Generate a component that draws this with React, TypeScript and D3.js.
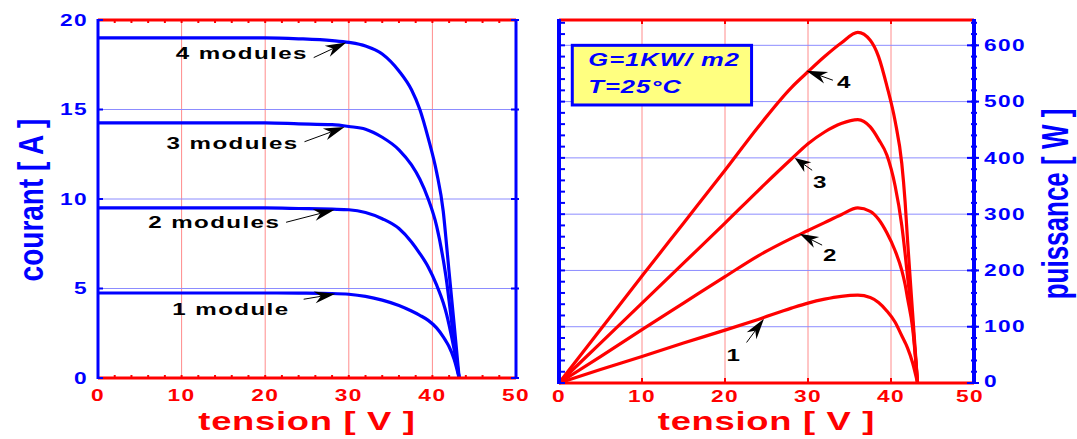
import React from 'react';
import * as d3 from 'd3';

// tension [V] sampling points
const tension = [0, 5, 10, 15, 20, 24, 28, 30, 32, 34, 36, 37.5, 38.5, 39.5, 40.5, 41.3, 41.7, 42, 42.6, 43.2];

// courant [A] for 1..4 modules
const courant1 = [4.75, 4.75, 4.75, 4.75, 4.75, 4.74, 4.72, 4.68, 4.56, 4.35, 4.05, 3.74, 3.5, 3.22, 2.8, 2.3, 2.0, 1.75, 1.05, 0];
const courant2 = [9.5, 9.5, 9.5, 9.5, 9.5, 9.47, 9.43, 9.4, 9.25, 8.9, 8.35, 7.6, 6.95, 6.2, 5.2, 4.2, 3.55, 2.95, 1.6, 0];
const courant3 = [14.25, 14.25, 14.25, 14.25, 14.25, 14.2, 14.15, 14.05, 13.9, 13.45, 12.75, 11.9, 11.1, 10.0, 8.5, 6.6, 5.4, 4.3, 2.0, 0];
const courant4 = [19.0, 19.0, 19.0, 19.0, 19.0, 18.95, 18.85, 18.75, 18.55, 18.1, 17.15, 16.1, 15.0, 13.4, 11.5, 9.3, 7.4, 5.9, 3.0, 0];

// puissance [W] for 1..4 modules
const puissance1 = [0, 24, 47, 71, 94, 113, 133, 142, 149, 154, 156, 152, 143, 128, 108, 84, 72, 62, 36, 0];
const puissance2 = [0, 47, 95, 142, 189, 226, 257, 271, 285, 299, 311, 305, 291, 267, 235, 200, 175, 150, 98, 0];
const puissance3 = [0, 71, 142, 213, 284, 342, 398, 425, 446, 461, 468, 455, 433, 405, 350, 280, 230, 188, 108, 0];
const puissance4 = [0, 95, 190, 284, 378, 455, 525, 553, 580, 604, 623, 609, 580, 528, 465, 390, 322, 252, 125, 0];

const courants = [courant1, courant2, courant3, courant4];
const puissances = [puissance1, puissance2, puissance3, puissance4];

const xTicks = [0, 10, 20, 30, 40, 50];
const courantTicks = [0, 5, 10, 15, 20];
const puissanceTicks = [0, 100, 200, 300, 400, 500, 600];

// annotations, anchored in data units
const courantNotes = [
  { label: '4 modules', at: [17.2, 18.15], tail: [25.8, 17.9], tip: [29.7, 18.75] },
  { label: '3 modules', at: [16.1, 13.15], tail: [24.7, 13.2], tip: [29.5, 14.02] },
  { label: '2 modules', at: [13.9, 8.7], tail: [22.5, 8.7], tip: [28.3, 9.4] },
  { label: '1 module', at: [15.9, 3.85], tail: [24.6, 4.4], tip: [28.4, 4.7] },
];
const puissanceNotes = [
  { label: '4', at: [34.3, 535], tail: [33.0, 538], tip: [29.8, 555] },
  { label: '3', at: [31.4, 358], tail: [30.5, 378], tip: [28.4, 400] },
  { label: '2', at: [32.6, 228], tail: [31.7, 245], tip: [29.0, 265] },
  { label: '1', at: [21.0, 50], tail: [22.6, 72], tip: [24.7, 114] },
];

const FONT = "'Liberation Sans', Arial, Helvetica, sans-serif";
const BLUE = '#0000ff';
const RED = '#ff0000';
const SX = 1.42;

function SText(props: any) {
  const { x, y, size, fill, anchor = 'middle', italic = false, spacing = 0, baseline = 'central', sx = SX, children } = props;
  return (
    <text
      transform={`translate(${x},${y}) scale(${sx},1)`}
      textAnchor={anchor}
      dominantBaseline={baseline}
      fontSize={size}
      fontWeight="bold"
      fontStyle={italic ? 'italic' : 'normal'}
      letterSpacing={spacing}
      fill={fill}
      fontFamily={FONT}
    >
      {children}
    </text>
  );
}

function Arrow({ x1, y1, x2, y2 }: any) {
  const dx = x2 - x1, dy = y2 - y1;
  const len = Math.hypot(dx, dy);
  const ux = dx / len, uy = dy / len;
  const nx = -uy, ny = ux;
  const L = Math.min(21, len * 0.75), w = 6;
  const bx = x2 - ux * L, by = y2 - uy * L;
  const mx = x2 - ux * L * 0.7, my = y2 - uy * L * 0.7;
  return (
    <g>
      <line x1={x1} y1={y1} x2={mx} y2={my} stroke="#000" strokeWidth={1} />
      <polygon points={`${x2},${y2} ${bx + nx * w},${by + ny * w} ${mx},${my} ${bx - nx * w},${by - ny * w}`} fill="#000" />
    </g>
  );
}

export default function App() {
  const xL = d3.scaleLinear().domain([0, 50]).range([98, 516]);
  const yL = d3.scaleLinear().domain([0, 20]).range([378, 20]);
  const xR = d3.scaleLinear().domain([0, 50]).range([559, 974]);
  const yR = d3.scaleLinear().domain([0, 645]).range([383, 20]);

  const lineL = d3.line<number>().x((_, i) => xL(tension[i])).y(d => yL(d)).curve(d3.curveMonotoneX);
  const lineR = d3.line<number>().x((_, i) => xR(tension[i])).y(d => yR(d)).curve(d3.curveMonotoneX);

  const [lt, lb] = yL.range().slice().reverse();
  const [rt, rb] = yR.range().slice().reverse();

  return (
    <svg width={1077} height={439} style={{ position: 'absolute', left: 0, top: 0, background: '#fff' }}>
      {/* ---------- left panel : courant ---------- */}
      {xTicks.slice(1, -1).map(v => (
        <line key={'lgx' + v} x1={xL(v)} x2={xL(v)} y1={lt} y2={lb} stroke="#ff8c8c" strokeWidth={1} />
      ))}
      {courantTicks.slice(1, -1).map(v => (
        <line key={'lgy' + v} x1={xL(0)} x2={xL(50)} y1={yL(v)} y2={yL(v)} stroke="#8c8cff" strokeWidth={1} />
      ))}
      {courants.map((c, i) => (
        <path key={'c' + i} d={lineL(c) || ''} fill="none" stroke={BLUE} strokeWidth={3.2} />
      ))}
      <line x1={xL(0)} x2={xL(50)} y1={lt} y2={lt} stroke={RED} strokeWidth={3} />
      <line x1={xL(0)} x2={xL(50)} y1={lb} y2={lb} stroke={RED} strokeWidth={3} />
      {d3.range(0, 51, 2).map(v => (
        <g key={'lmt' + v}>
          <line x1={xL(v)} x2={xL(v)} y1={lt} y2={lt + 3} stroke={RED} strokeWidth={2} />
          <line x1={xL(v)} x2={xL(v)} y1={lb} y2={lb - 3} stroke={RED} strokeWidth={2} />
        </g>
      ))}
      <line x1={xL(0)} x2={xL(0)} y1={lt - 1} y2={lb + 1} stroke={BLUE} strokeWidth={3} />
      <line x1={xL(50)} x2={xL(50)} y1={lt - 1} y2={lb + 1} stroke={BLUE} strokeWidth={3} />
      {courantTicks.map(v => (
        <g key={'lyt' + v}>
          <line x1={xL(0)} x2={xL(0) + 5} y1={yL(v)} y2={yL(v)} stroke={BLUE} strokeWidth={2} />
          <line x1={xL(50) - 5} x2={xL(50) + 3} y1={yL(v)} y2={yL(v)} stroke={BLUE} strokeWidth={2} />
          <SText x={88} y={yL(v)} size={16} fill={BLUE} anchor="end" spacing={1}>{v}</SText>
        </g>
      ))}
      {xTicks.map(v => (
        <SText key={'lxl' + v} x={xL(v)} y={395} size={16} fill={RED} spacing={1}>{v}</SText>
      ))}
      <SText x={(xL(0) + xL(50)) / 2} y={430} size={26} fill={RED} baseline="alphabetic" sx={1.4} spacing={0.5}>tension [ V ]</SText>
      <text transform={`translate(43,200) rotate(-90) scale(1,1.25)`} textAnchor="middle" fontSize={28} fontWeight="bold" fill={BLUE} fontFamily={FONT}>courant [ A ]</text>
      {courantNotes.map(n => (
        <g key={n.label}>
          <SText x={xL(n.at[0])} y={yL(n.at[1])} size={17} fill="#000" spacing={1}>{n.label}</SText>
          <Arrow x1={xL(n.tail[0])} y1={yL(n.tail[1])} x2={xL(n.tip[0])} y2={yL(n.tip[1])} />
        </g>
      ))}

      {/* ---------- right panel : puissance ---------- */}
      {xTicks.slice(1, -1).map(v => (
        <line key={'rgx' + v} x1={xR(v)} x2={xR(v)} y1={rt} y2={rb} stroke="#ff8c8c" strokeWidth={1} />
      ))}
      {puissanceTicks.slice(1).map(v => (
        <line key={'rgy' + v} x1={xR(0)} x2={xR(50)} y1={yR(v)} y2={yR(v)} stroke="#8c8cff" strokeWidth={1} />
      ))}
      {puissances.map((p, i) => (
        <path key={'p' + i} d={lineR(p) || ''} fill="none" stroke={RED} strokeWidth={3.2} />
      ))}
      <line x1={xR(0)} x2={xR(50)} y1={rt} y2={rt} stroke={RED} strokeWidth={3} />
      <line x1={xR(0)} x2={xR(50)} y1={rb} y2={rb} stroke={RED} strokeWidth={3} />
      {xTicks.slice(1, -1).map(v => (
        <g key={'rxt' + v}>
          <line x1={xR(v)} x2={xR(v)} y1={rt} y2={rt + 4} stroke={RED} strokeWidth={2} />
          <line x1={xR(v)} x2={xR(v)} y1={rb} y2={rb - 5} stroke={RED} strokeWidth={2} />
        </g>
      ))}
      <line x1={xR(0)} x2={xR(0)} y1={rt - 1} y2={rb + 1} stroke={BLUE} strokeWidth={4} />
      <line x1={xR(50)} x2={xR(50)} y1={rt - 1} y2={rb + 1} stroke={BLUE} strokeWidth={4} />
      {d3.range(0, 641, 20).map(v => (
        <g key={'rmt' + v}>
          <line x1={xR(0)} x2={xR(0) + 6} y1={yR(v)} y2={yR(v)} stroke={BLUE} strokeWidth={2} />
          <line x1={xR(50) - 3} x2={xR(50) + 3} y1={yR(v)} y2={yR(v)} stroke={BLUE} strokeWidth={2} />
        </g>
      ))}
      {puissanceTicks.map(v => (
        <g key={'ryt' + v}>
          <line x1={xR(50) - 7} x2={xR(50) + 5} y1={yR(v)} y2={yR(v)} stroke={BLUE} strokeWidth={2} />
          <SText x={984} y={yR(v) - (v === 0 ? 2 : 0)} size={16} fill={BLUE} anchor="start" spacing={1}>{v}</SText>
        </g>
      ))}
      {xTicks.map(v => (
        <SText key={'rxl' + v} x={xR(v) - (v === 50 ? 4 : 0)} y={396} size={16} fill={RED} spacing={1}>{v}</SText>
      ))}
      <SText x={(xR(0) + xR(50)) / 2} y={430} size={26} fill={RED} baseline="alphabetic" sx={1.4} spacing={0.5}>tension [ V ]</SText>
      <text transform={`translate(1068,204) rotate(-90) scale(1,1.4)`} textAnchor="middle" fontSize={26} fontWeight="bold" fill={BLUE} fontFamily={FONT}>puissance [ W ]</text>

      <rect x={xR(1.6)} y={yR(600)} width={xR(23.2) - xR(1.6)} height={yR(494) - yR(600)} fill="#ffff80" stroke={BLUE} strokeWidth={3} />
      <SText x={xR(1.6) + 16} y={yR(600) + 21} size={18} fill={BLUE} anchor="start" italic spacing={0.7} baseline="alphabetic">G=1KW/ m2</SText>
      <SText x={xR(1.6) + 16} y={yR(600) + 48} size={18} fill={BLUE} anchor="start" italic spacing={0.7} baseline="alphabetic">T=25°C</SText>

      {puissanceNotes.map(n => (
        <g key={'pn' + n.label}>
          <SText x={xR(n.at[0])} y={yR(n.at[1])} size={17} fill="#000">{n.label}</SText>
          <Arrow x1={xR(n.tail[0])} y1={yR(n.tail[1])} x2={xR(n.tip[0])} y2={yR(n.tip[1])} />
        </g>
      ))}
    </svg>
  );
}
